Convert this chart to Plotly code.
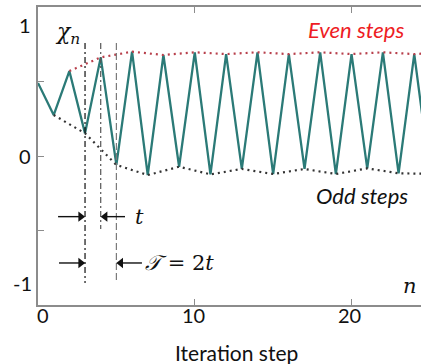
import plotly.graph_objects as go

# ---- data ----
steps = list(range(27))
chi = [0.49, 0.275, 0.57, 0.152, 0.662, -0.06, 0.70, -0.128, 0.678, -0.072,
       0.696, -0.123, 0.684, -0.087, 0.696, -0.121, 0.684, -0.087, 0.696, -0.121,
       0.684, -0.083, 0.696, -0.116, 0.684, -0.12, 0.696]
even_n = [n for n in steps if n >= 2 and n % 2 == 0]
even_v = [chi[n] for n in even_n]
odd_n = [n for n in steps if n % 2 == 1]
odd_v = [chi[n] for n in odd_n]

x_ticks = [0, 10, 20]
y_ticks = [-1, -0.5, 0, 0.5, 1]
# tick labels as drawn in the figure: (text, pixel x, pixel y)
tick_labels = [("0", 43, 315), ("10", 193, 315), ("20", 349, 315),
               ("1", 25, 25), ("0", 25, 156), ("-1", 22, 283)]

# marker lines (step, top, bottom, colour, dash)
vlines = [(3, 0.758, -0.852, "#111111", "6px,3px,2px,3px"),
          (4, 0.758, -0.49, "#555555", "6px,3px,2px,3px"),
          (5, 0.758, -0.852, "#7a7a7a", "7px,3px")]
# arrows (tail_x, head_x, y)
arrows = [(1.28, 2.97, -0.407), (5.55, 4.03, -0.407),
          (1.34, 2.97, -0.718), (6.63, 5.03, -0.718)]

fig = go.Figure()
fig.add_trace(go.Scatter(x=steps, y=chi, mode="lines",
                         line=dict(color="#2b7a77", width=2.3), hoverinfo="skip"))
fig.add_trace(go.Scatter(x=even_n, y=even_v, mode="lines",
                         line=dict(color="#b8404c", width=2.2, dash="2px,4px")))
fig.add_trace(go.Scatter(x=odd_n, y=odd_v, mode="lines",
                         line=dict(color="#333333", width=2.2, dash="2px,4px")))
for n, top, bot, col, dash in vlines:
    fig.add_trace(go.Scatter(x=[n, n], y=[top, bot], mode="lines",
                             line=dict(color=col, width=1.2, dash=dash)))

HALF = 0.25  # half the arrowhead length in step units
for tx, hx, yy in arrows:
    sign = 1 if hx > tx else -1
    fig.add_trace(go.Scatter(x=[tx, hx - sign * HALF], y=[yy, yy], mode="lines",
                             line=dict(color="#111111", width=1.4)))
    fig.add_trace(go.Scatter(x=[hx - sign * HALF], y=[yy], mode="markers",
                             marker=dict(symbol="triangle-right" if sign > 0 else "triangle-left",
                                         size=9, color="#111111", line=dict(width=0))))

serif = "DejaVu Serif"
ann = [
    dict(x=53, y=33, text="<i>χ</i><sub><i>n</i></sub>",
         font=dict(family=serif, size=22, color="#111"), xanchor="left"),
    dict(x=133, y=217, text="<i>t</i>",
         font=dict(family=serif, size=21, color="#111"), xanchor="left"),
    dict(x=143, y=263, text="<i>𝒯</i> = 2<i>t</i>",
         font=dict(family=serif, size=21, color="#111"), xanchor="left"),
    dict(x=410, y=286, text="<i>n</i>",
         font=dict(family=serif, size=21, color="#111"), xanchor="center"),
    dict(x=356, y=29, text="<i>Even steps</i>",
         font=dict(family="Lato", size=22, color="#ee1c24"), xanchor="center"),
    dict(x=362, y=195, text="<i>Odd steps</i>",
         font=dict(family="Lato", size=22, color="#111"), xanchor="center"),
    dict(x=236, y=352, text="Iteration step",
         font=dict(family="Lato", size=21, color="#111"), xanchor="center"),
]
for txt, px, py in tick_labels:
    ann.append(dict(x=px, y=py, text=txt, xanchor="center",
                    font=dict(family="Lato", size=20, color="#111")))

# convert pixel-placed annotations to paper coords
W, H = 421, 364
L, R, T, B = 38, 0, 7, 59
pw, ph = W - L - R, H - T - B
for a in ann:
    px, py = a["x"], a["y"]
    a.update(x=(px - L) / pw, y=(H - B - py) / ph, xref="paper", yref="paper",
             showarrow=False, yanchor="middle")

fig.update_layout(
    width=W, height=H, margin=dict(l=L, r=R, t=T, b=B),
    paper_bgcolor="white", plot_bgcolor="white", showlegend=False,
    annotations=ann,
    xaxis=dict(range=[0, 24.43], tickvals=x_ticks, showticklabels=False, ticks="inside",
               ticklen=6, tickcolor="#8c8c8c", showline=True, linecolor="#8c8c8c",
               linewidth=1.5, mirror="ticks", showgrid=False, zeroline=False),
    yaxis=dict(range=[-1, 1], tickvals=y_ticks, showticklabels=False, ticks="inside",
               ticklen=6, tickcolor="#8c8c8c", showline=True, linecolor="#8c8c8c",
               linewidth=1.5, showgrid=False, zeroline=False),
)
fig.write_html("out.html")
